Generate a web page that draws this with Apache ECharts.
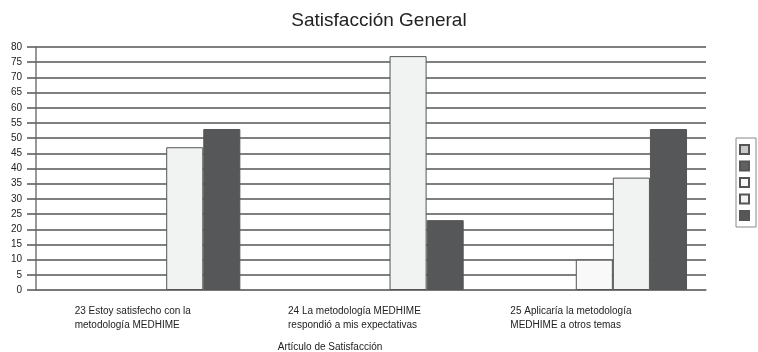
<!DOCTYPE html>
<html><head><meta charset="utf-8">
<script src="https://cdn.jsdelivr.net/npm/echarts@6/dist/echarts.min.js"></script>
<style>html,body{margin:0;padding:0;background:#fff}#c{width:758px;height:352px}</style>
</head><body><div id="c"></div>
<script>
const categories = ['23 Estoy satisfecho con la\nmetodología MEDHIME', '24 La metodología MEDHIME\nrespondió a mis expectativas', '25 Aplicaría la metodología\nMEDHIME a otros temas'];
const seriesNames = ['1', '2', '3', '4', '5'];
const s1 = [null, null, null];
const s2 = [null, null, null];
const s3 = [null, null, 10];
const s4 = [47, 77, 37];
const s5 = [53, 23, 53];
const yTicks = {min: 0, max: 80, interval: 5};

const colors = ['#c9c9c9', '#606162', '#f9f9f9', '#f1f2f2', '#555759'];
const values = [s1, s2, s3, s4, s5];
const chart = echarts.init(document.getElementById('c'));
const ff = 'Liberation Sans, Arial, sans-serif';
chart.setOption({
  animation: false,
  title: {text: 'Satisfacción General', left: 'center', top: 6, textStyle: {fontFamily: ff, fontSize: 19, fontWeight: 'normal', color: '#222'}},
  legend: {
    orient: 'vertical', right: 2, top: 138, padding: [6, 6, 6, 3],
    icon: 'rect',
    itemWidth: 9, itemHeight: 9, itemGap: 5.5,
    formatter: () => '', borderColor: '#888', borderWidth: 1,
    textStyle: {fontSize: 1}, data: seriesNames
  },
  grid: {left: 36, right: 52, top: 47, bottom: 62, outerBoundsMode: 'none', containLabel: false},
  xAxis: {
    type: 'category', data: categories,
    name: 'Artículo de Satisfacción', nameLocation: 'middle', nameGap: 52,
    nameTextStyle: {fontFamily: ff, fontSize: 10, color: '#222', padding: [0, 82, 0, 0]},
    axisLine: {lineStyle: {color: '#777', width: 1.5}},
    axisTick: {length: 8, lineStyle: {color: '#666', width: 1.5}},
    axisLabel: {
      margin: 14, color: '#222', fontFamily: ff, fontSize: 10,
      formatter: (v, i) => '{a' + i + '|' + v + '}',
      rich: {
        a0: {width: 146, align: 'left', lineHeight: 14, fontFamily: ff, fontSize: 10, color: '#222'},
        a1: {width: 166, align: 'left', lineHeight: 14, fontFamily: ff, fontSize: 10, color: '#222'},
        a2: {width: 168, align: 'left', lineHeight: 14, fontFamily: ff, fontSize: 10, color: '#222'}
      }
    }
  },
  yAxis: {
    type: 'value', min: yTicks.min, max: yTicks.max, interval: yTicks.interval,
    axisLine: {show: true, lineStyle: {color: '#777', width: 1.5}},
    axisTick: {show: true, length: 9, lineStyle: {color: '#555', width: 1.5}},
    axisLabel: {margin: 14, color: '#222', fontFamily: ff, fontSize: 10},
    splitLine: {lineStyle: {color: '#555', width: 1.5}}
  },
  series: values.map((d, i) => ({
    name: seriesNames[i], type: 'bar', data: d,
    barGap: 0, barCategoryGap: '17%',
    itemStyle: {color: colors[i], borderColor: '#555', borderWidth: 1}
  }))
});
</script></body></html>
